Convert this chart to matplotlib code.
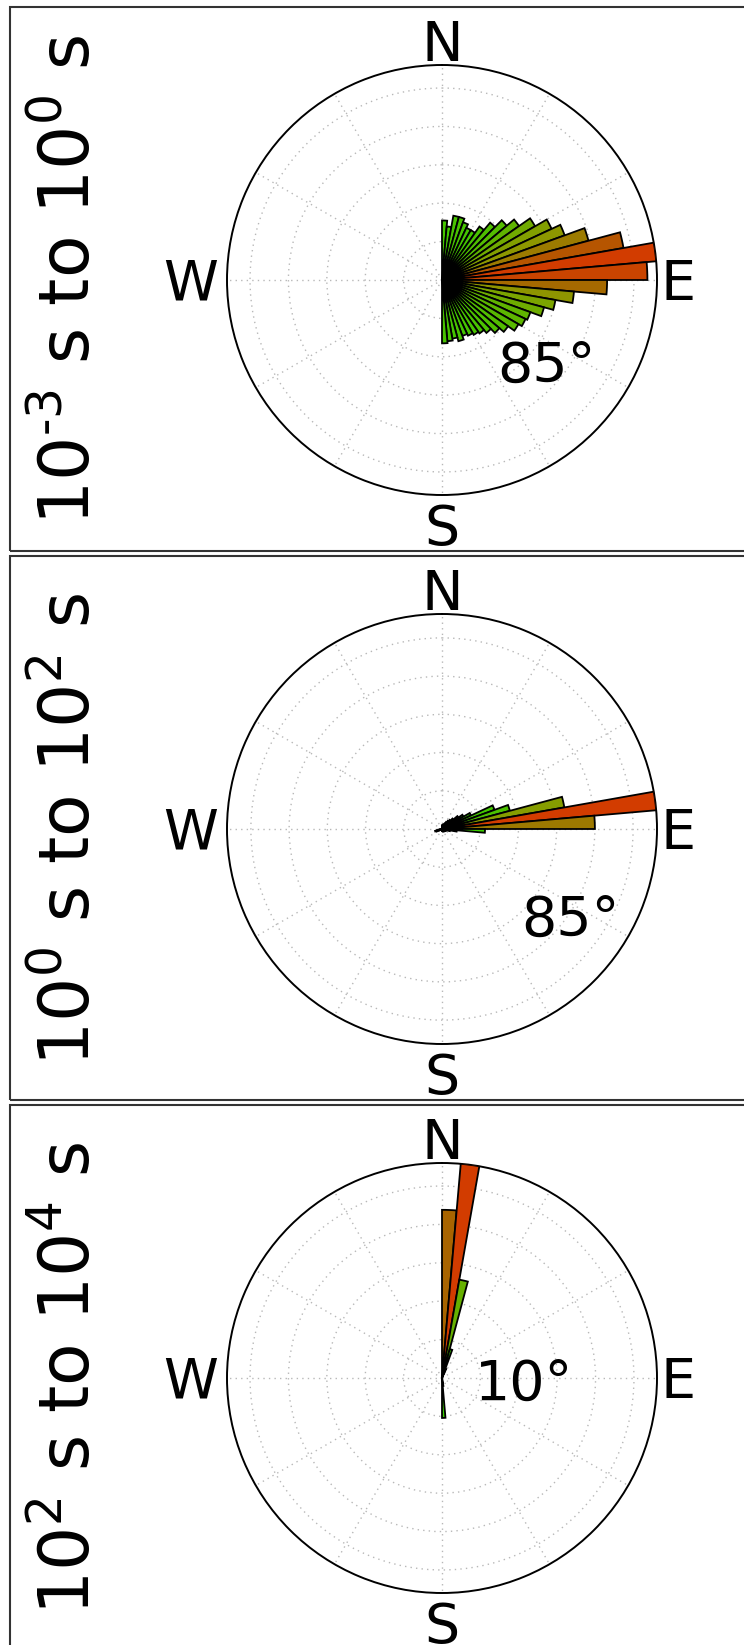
import numpy as np
import matplotlib
matplotlib.use("Agg")
from matplotlib import pyplot as plt
from matplotlib.colors import LinearSegmentedColormap
from matplotlib.patches import Rectangle

# direction bins (deg, clockwise from north), 5 deg wide
bin_start = np.arange(0, 360, 5)

# relative frequency (%) per bin, 72 bins each
freq_short = [3.1, 2.8, 3.4, 3.4, 3.2, 3.0, 3.0, 3.4, 3.9, 4.4, 4.9, 5.6,
              6.3, 6.8, 7.9, 9.6, 11.2, 10.7, 8.6, 6.9, 6.0, 5.5, 4.9, 4.8,
              4.6, 4.2, 3.9, 3.6, 3.4, 3.3, 3.2, 3.1, 3.3, 3.1, 3.2, 3.3,
              0, 0, 0, 0, 0, 0, 0, 0, 0, 0, 0, 0,
              0, 0, 0, 0, 0, 0, 0, 0, 0, 0, 0, 0,
              0, 0, 0, 0, 0, 0, 0, 0, 0, 0, 0, 0]
freq_mid = [0.8, 0.6, 0.8, 1.0, 1.0, 1.3, 1.7, 2.1, 2.5, 3.1, 4.2, 5.2,
            6.7, 11.7, 14.7, 26.0, 45.0, 32.0, 9.0, 3.1, 1.7, 1.0, 0.8, 0.8,
            0.7, 0.7, 0.6, 0.6, 0.6, 0.5, 0.5, 0.5, 0.5, 0.4, 0.4, 0.4,
            0, 0, 0, 0, 0, 0, 0, 0, 0, 0, 0, 0,
            0.6, 1.2, 1.5, 1.0, 0, 0, 0, 0, 0, 0, 0, 0,
            0, 0, 0, 0, 0, 0, 0, 0, 0, 0, 0, 0]
freq_long = [43.8, 56.0, 26.0, 7.8, 2.6, 0, 0, 0, 0, 0, 0, 0,
             0, 0, 0, 0, 0, 0, 0, 0, 0, 0, 0, 0,
             0, 0, 0, 0, 0, 0, 0, 0, 0, 0, 2.1, 10.4,
             0, 0, 0, 0, 0, 0, 0, 0, 0, 0, 0, 0,
             0, 0, 0, 0, 0, 0, 0, 0, 0, 0, 0, 0,
             0, 0, 0, 0, 0, 0, 0, 0, 0, 0, 0, 0]

panel_labels = [r"10$^{\text{-}3}$ s to 10$^{0}$ s",
                r"10$^{0}$ s to 10$^{2}$ s",
                r"10$^{2}$ s to 10$^{4}$ s"]
angle_labels = ["85°", "85°", "10°"]
angle_pos = [(0.744, 0.263), (0.798, 0.251), (0.692, 0.449)]
grid_step = [2, 8, 10]

plt.rcParams['mathtext.default'] = 'regular'

cmap = LinearSegmentedColormap.from_list(
    "gr", [(0.0, "#22dd00"), (0.4, "#55bb00"), (0.6, "#8c9900"),
           (0.8, "#aa6000"), (1.0, "#d23c00")])

W, H = 744, 1645
fig = plt.figure(figsize=(W / 100, H / 100), dpi=100)

centers = [280, 829, 1378]
rad = 215

for i, freq in enumerate([freq_short, freq_mid, freq_long]):
    freq = np.array(freq)
    cy = centers[i]

    # panel frame (right side runs off the picture)
    top = 7 + 549 * i
    fig.patches.append(Rectangle((10 / W, 1 - (top + 544) / H), 1.2, 544 / H,
                                 transform=fig.transFigure, fill=False,
                                 edgecolor="#333333", linewidth=1.5))

    ax = fig.add_axes([(442 - rad) / W, (H - cy - rad) / H, 2 * rad / W, 2 * rad / H],
                      projection="polar")
    ax.set_theta_zero_location("N")
    ax.set_theta_direction(-1)

    rmax = freq.max()
    colors = cmap(freq / rmax)
    ax.bar(np.deg2rad(bin_start), freq, width=np.deg2rad(5), align="edge",
           color=colors, edgecolor="black", linewidth=1.3, zorder=3)
    ax.set_ylim(0, rmax)

    ax.set_thetagrids(np.arange(0, 360, 30), labels=[""] * 12)
    ax.set_rgrids(np.arange(grid_step[i], rmax, grid_step[i]), labels=[])
    ax.grid(True, color="0.72", linestyle=(0, (1, 3)), linewidth=1)
    ax.spines["polar"].set_linewidth(1.4)

    for txt, x, y in [("N", 0.5, 1.009), ("E", 1.049, 0.4535),
                      ("S", 0.5, -0.116), ("W", -0.084, 0.4535)]:
        ax.text(x, y, txt, transform=ax.transAxes, ha="center", va="baseline",
                fontsize=40)
    ax.text(angle_pos[i][0], angle_pos[i][1], angle_labels[i],
            transform=ax.transAxes, ha="center", va="baseline", fontsize=40,
            zorder=5)

    fig.text(70 / W, 1 - cy / H, panel_labels[i], rotation=90,
             ha="center", va="center", fontsize=50)

fig.savefig("out.png", dpi=100)
